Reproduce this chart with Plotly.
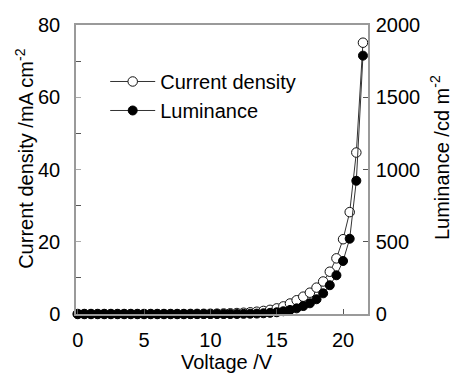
import plotly.graph_objects as go

voltage = [i * 0.5 for i in range(44)]  # 0 .. 21.5 V
current_density = [0]*17 + [0.02, 0.03, 0.05, 0.07, 0.10, 0.14, 0.19, 0.26, 0.35, 0.47, 0.63,
                            0.85, 1.15, 1.55, 2.1, 2.9, 3.8, 4.8, 5.9, 7.3, 9.0, 11.7, 15.4,
                            20.7, 28.2, 44.7, 75.1]
luminance = [0]*25 + [1, 2, 3, 5, 8, 12, 19, 28, 39, 55, 74, 102, 143, 199, 268, 367, 521, 922, 1788]

x_title = "Voltage /V"
y_title = "Current density /mA cm<sup>-2</sup>"
y2_title = "Luminance /cd m<sup>-2</sup>"

font = "Liberation Sans, Arial, sans-serif"
axis_gray = "#9a9a9a"

fig = go.Figure()
fig.add_trace(go.Scatter(
    x=voltage, y=current_density, name="Current density", mode="lines+markers",
    line=dict(color="#333333", width=1),
    marker=dict(symbol="circle", size=9.5, color="white", line=dict(color="#111111", width=1)),
    cliponaxis=False, yaxis="y"))
fig.add_trace(go.Scatter(
    x=voltage, y=luminance, name="Luminance", mode="lines+markers",
    line=dict(color="#333333", width=1),
    marker=dict(symbol="circle", size=9, color="black", line=dict(color="black", width=1)),
    cliponaxis=False, yaxis="y2"))

fig.update_layout(
    width=454, height=373,
    margin=dict(l=76, r=86, t=25, b=59),
    paper_bgcolor="white", plot_bgcolor="white",
    font=dict(family=font, size=20, color="black"),
    showlegend=True,
    legend=dict(x=0.1, y=0.872, xanchor="left", yanchor="top", bgcolor="rgba(0,0,0,0)",
                font=dict(size=20), tracegroupgap=0, itemwidth=45),
    xaxis=dict(range=[-0.13, 21.88], tickvals=[0, 5, 10, 15, 20], ticks="inside", ticklen=5,
               tickcolor="#555555", showline=True, linecolor=axis_gray, linewidth=1.5, mirror=True,
               showgrid=False, zeroline=False, ticklabelstandoff=7, automargin=False),
    yaxis=dict(range=[0, 80], tickvals=[0, 20, 40, 60, 80], ticks="inside", ticklen=5,
               tickcolor="#aaaaaa", ticklabelstandoff=10,
               minor=dict(tickvals=[10, 30, 50, 70], ticks="inside", ticklen=5, tickcolor="#555555"),
               showline=True, linecolor=axis_gray, linewidth=1.5,
               showgrid=False, zeroline=False, automargin=False),
    yaxis2=dict(range=[0, 2000], tickvals=[0, 500, 1000, 1500, 2000], overlaying="y", side="right",
                ticks="inside", ticklen=5, tickcolor="#555555", ticklabelstandoff=2,
                showline=True, linecolor=axis_gray, linewidth=1.5,
                showgrid=False, zeroline=False, automargin=False),
    annotations=[
        dict(text=x_title, xref="paper", yref="paper", x=0.517, y=-0.166,
             xanchor="center", yanchor="middle", showarrow=False, font=dict(size=20)),
        dict(text=y_title, xref="paper", yref="paper", x=-0.175, y=0.54, textangle=-90,
             xanchor="center", yanchor="middle", showarrow=False, font=dict(size=20)),
        dict(text=y2_title, xref="paper", yref="paper", x=1.247, y=0.54, textangle=-90,
             xanchor="center", yanchor="middle", showarrow=False, font=dict(size=20)),
    ],
)

fig.write_html("out.html")
